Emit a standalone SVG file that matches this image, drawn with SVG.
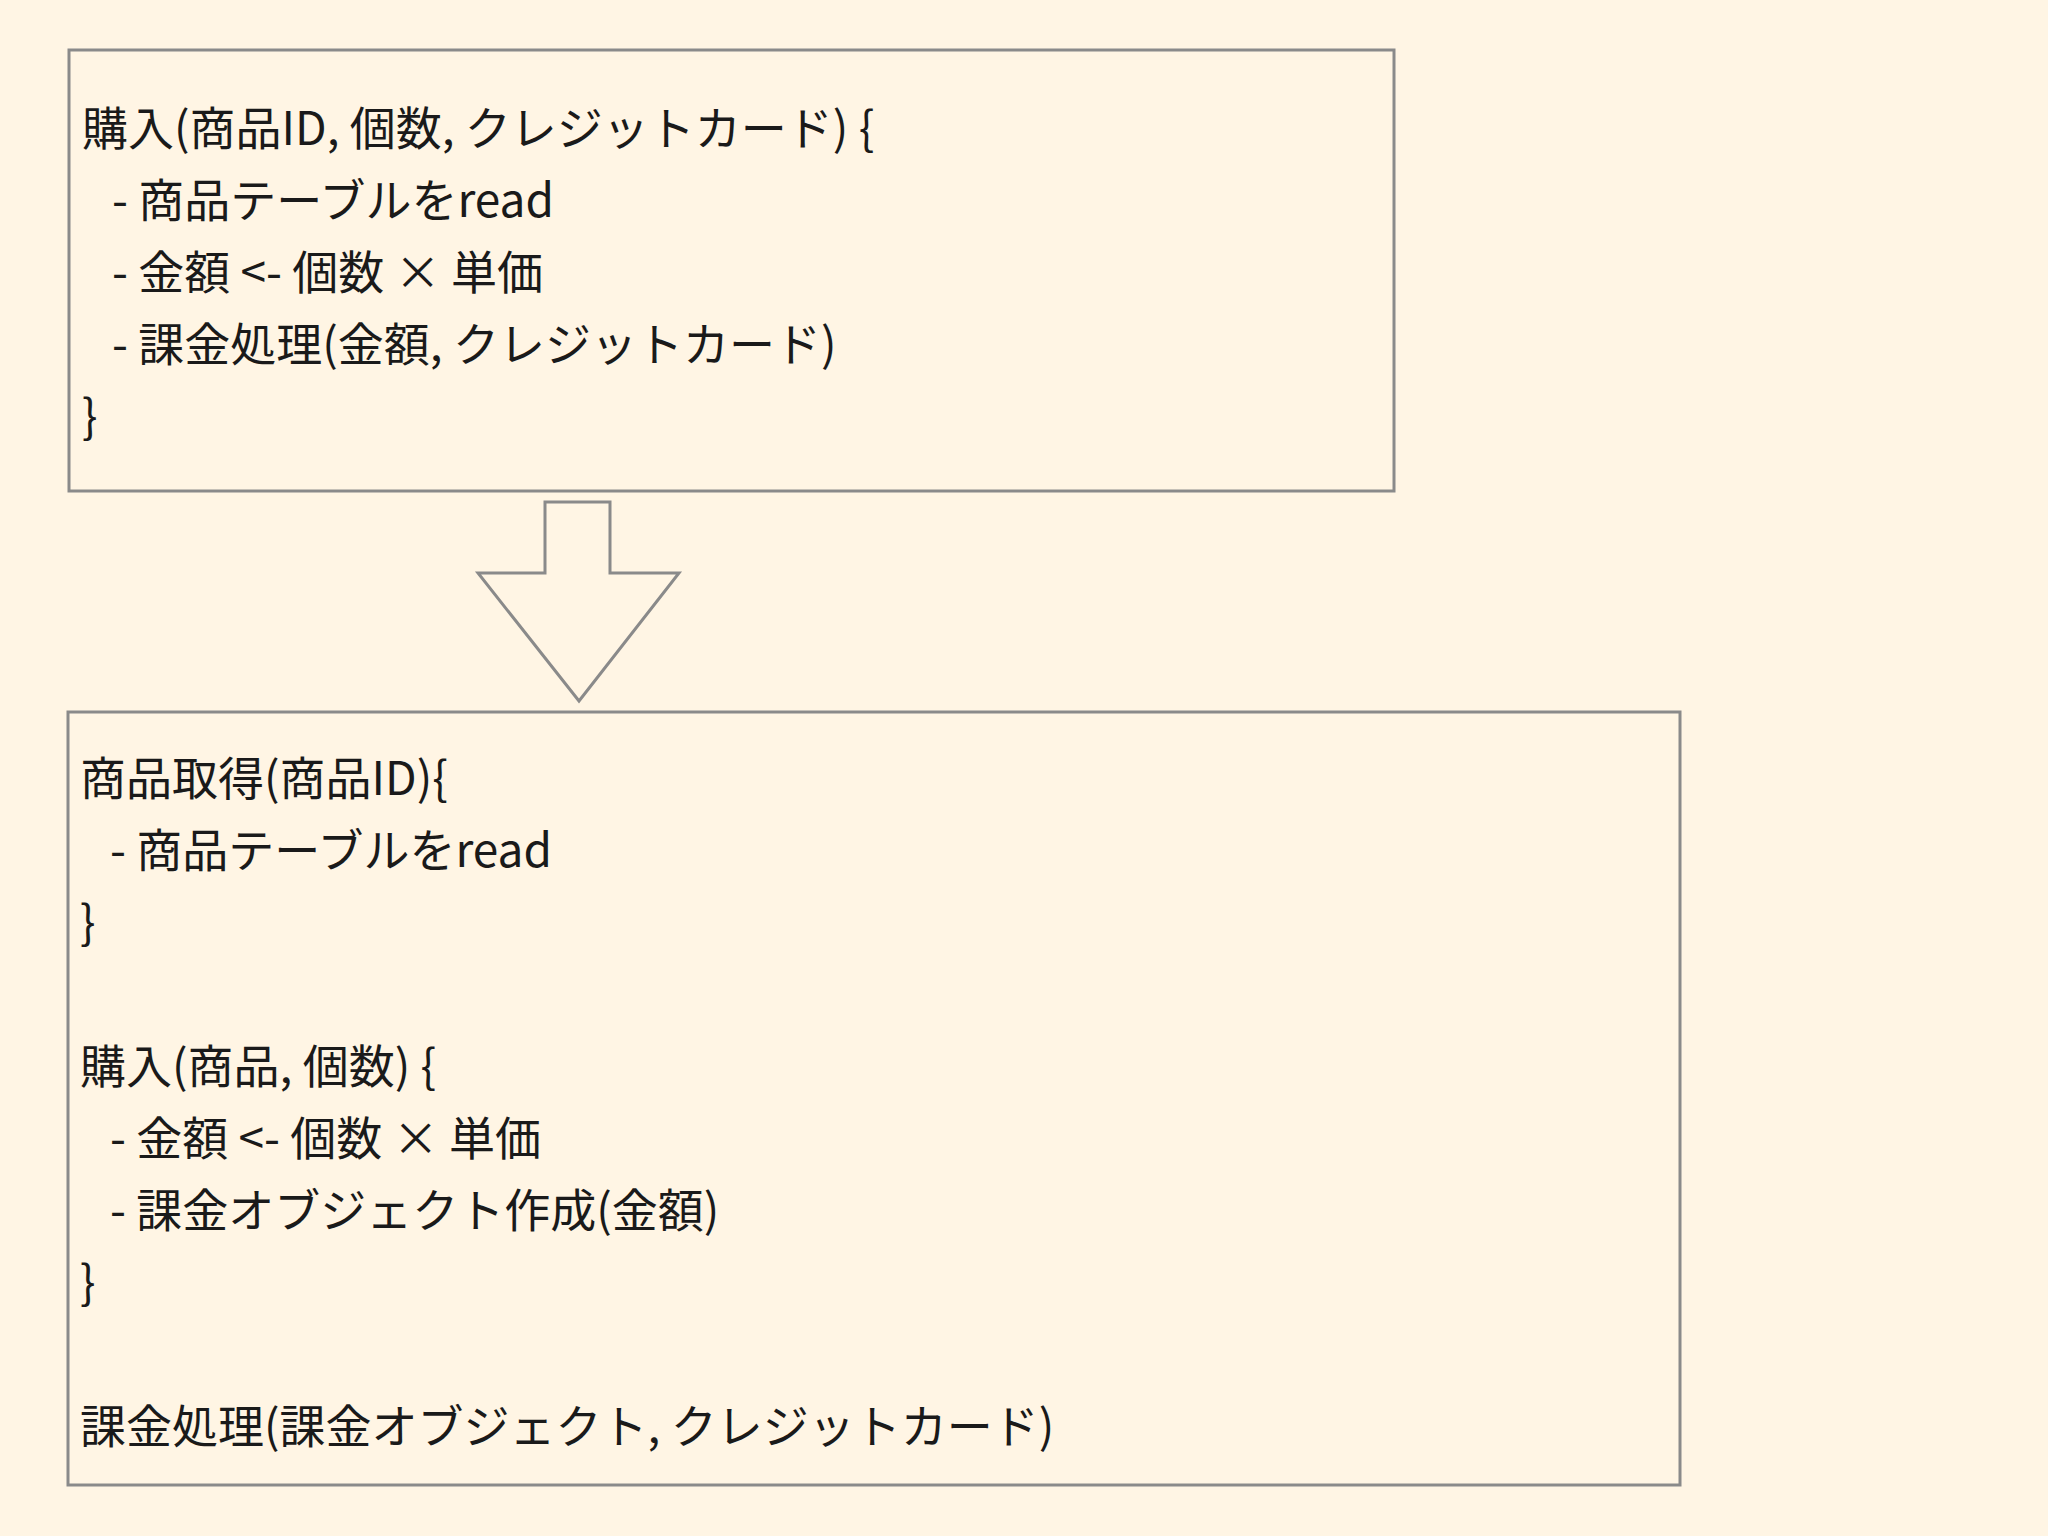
<svg xmlns="http://www.w3.org/2000/svg" width="2048" height="1536" viewBox="0 0 2048 1536">
<style>
.box{fill:none;stroke:#8a8a8a;stroke-width:3}
text{font-family:"Noto Sans CJK JP","Noto Sans",sans-serif;font-size:46px;fill:#1a1a1a}
</style>
<rect width="2048" height="1536" fill="#fff5e4"/>
<g id="before">
<rect class="box" x="69" y="50" width="1325" height="441"/>
<text x="82" y="145">購入(商品ID, 個数, クレジットカード) {</text>
<text x="112" y="217">- 商品テーブルをread</text>
<text x="112" y="289">- 金額 &lt;- 個数 × 単価</text>
<text x="112" y="361">- 課金処理(金額, クレジットカード)</text>
<text x="82" y="433">}</text>
</g>
<g id="connectors">
<polygon points="545,502 610,502 610,573 679,573 579,701 478,573 545,573" fill="none" stroke="#8a8a8a" stroke-width="3"/>
</g>
<g id="after">
<rect class="box" x="68" y="712" width="1612" height="773"/>
<text x="80" y="795">商品取得(商品ID){</text>
<text x="110" y="867">- 商品テーブルをread</text>
<text x="80" y="939">}</text>
<text x="80" y="1083">購入(商品, 個数) {</text>
<text x="110" y="1155">- 金額 &lt;- 個数 × 単価</text>
<text x="110" y="1227">- 課金オブジェクト作成(金額)</text>
<text x="80" y="1299">}</text>
<text x="80" y="1443">課金処理(課金オブジェクト, クレジットカード)</text>
</g>
</svg>
